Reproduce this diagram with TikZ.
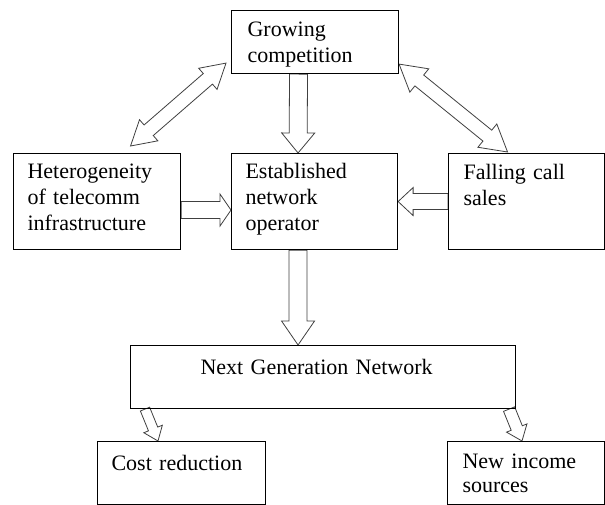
\documentclass[tikz,border=0pt]{standalone}
\usepackage{fontspec}
\setmainfont{Liberation Serif}
\usetikzlibrary{calc,backgrounds}

% Hollow block arrow: tail, tip, half shaft width, half head width, head length
\newcommand\blockarrow[5]{%
  \coordinate (bahead) at ($(#2)!#5pt!(#1)$);
  \draw[hollowarrow]
    ($(#1)!#3pt!90:(#2)$) -- ($(bahead)!#3pt!90:(#2)$) -- ($(bahead)!#4pt!90:(#2)$)
    -- (#2)
    -- ($(bahead)!#4pt!-90:(#2)$) -- ($(bahead)!#3pt!-90:(#2)$) -- ($(#1)!#3pt!-90:(#2)$)
    -- cycle;
}
% Hollow double-headed block arrow between two points
\newcommand\twinarrow[5]{%
  \coordinate (twA) at ($(#1)!#5pt!(#2)$);
  \coordinate (twB) at ($(#2)!#5pt!(#1)$);
  \draw[hollowarrow]
    (#1) -- ($(twA)!#4pt!90:(#2)$) -- ($(twA)!#3pt!90:(#2)$)
    -- ($(twB)!#3pt!-90:(#1)$) -- ($(twB)!#4pt!-90:(#1)$)
    -- (#2)
    -- ($(twB)!#4pt!90:(#1)$) -- ($(twB)!#3pt!90:(#1)$)
    -- ($(twA)!#3pt!-90:(#2)$) -- ($(twA)!#4pt!-90:(#2)$)
    -- cycle;
}

\tikzset{
  box/.style={draw, line width=1.1pt, anchor=north west, inner ysep=0pt,
    align=left, font=\fontsize{22}{26}\selectfont},
  hollowarrow/.style={draw=black!75, fill=white, line width=0.8pt, line join=miter},
}

\begin{document}
\begin{tikzpicture}[x=1pt, y=-1pt]
  \useasboundingbox (0,0) rectangle (605,505);

  % boxes
  \node[box, inner xsep=16pt, text width=135pt, text height=26pt, text depth=37pt]
    (gc) at (231,10) {Growing\\competition};
  \node[box, inner xsep=14pt, text width=139pt, text height=25pt, text depth=71pt]
    (het) at (13,153) {Heterogeneity\\of telecomm\\infrastructure};
  \node[box, inner xsep=14pt, text width=138pt, text height=25pt, text depth=71pt]
    (en) at (231,153) {Established\\network\\operator};
  \node[box, inner xsep=15pt, text width=126pt, text height=26pt, text depth=70pt]
    (fal) at (448,153) {Falling call\\sales};
  \node[box, inner xsep=70pt, text width=245pt, text height=29pt, text depth=34pt]
    (ngn) at (130,345) {Next Generation Network};
  \node[box, inner xsep=14pt, text width=140pt, text height=29pt, text depth=34pt]
    (cost) at (97,441) {Cost reduction};
  \node[box, inner xsep=15pt, text width=127pt, text height=27pt, text depth=36pt,
    font=\fontsize{22}{24}\selectfont]
    (inc) at (447,441) {New income\\sources};

  % end points of the connectors
  \coordinate (a1t) at ($(gc.south)+(-16.5,0)$);
  \coordinate (a1h) at ($(en.north)+(-16.5,0)$);
  \coordinate (a2t) at ($(en.south)+(-16.5,0)$);
  \coordinate (a2h) at ($(ngn.north)+(-25,0)$);
  \coordinate (a3t) at ($(het.east)+(0,8.5)$);
  \coordinate (a3h) at ($(en.west)+(0,8.5)$);
  \coordinate (a4t) at (fal.west);
  \coordinate (a4h) at (en.east);
  \coordinate (d1a) at ($(gc.south west)+(-5,-11)$);
  \coordinate (d1b) at ($(het.north)+(33.5,-7)$);
  \coordinate (d2a) at ($(gc.south east)+(0,-10)$);
  \coordinate (d2b) at ($(fal.north)+(-19,-1)$);
  \coordinate (s1t) at ($(ngn.south west)+(15,0)$);
  \coordinate (s1h) at ($(cost.north west)+(61,0)$);
  \coordinate (s2t) at ($(ngn.south east)+(-7,0)$);
  \coordinate (s2h) at ($(inc.north west)+(75,0)$);

  \begin{scope}[on background layer]
    \blockarrow{a1t}{a1h}{9}{16.5}{20}
    \blockarrow{a2t}{a2h}{9}{16.5}{24}
    \blockarrow{a3t}{a3h}{8.5}{16}{11}
    \blockarrow{a4t}{a4h}{8}{14}{15}
    \twinarrow{d1a}{d1b}{7}{14}{24}
    \twinarrow{d2a}{d2b}{7}{15}{26}
    \blockarrow{s1t}{s1h}{5}{10}{13}
    \blockarrow{s2t}{s2h}{6}{11}{14}
  \end{scope}
\end{tikzpicture}
\end{document}
